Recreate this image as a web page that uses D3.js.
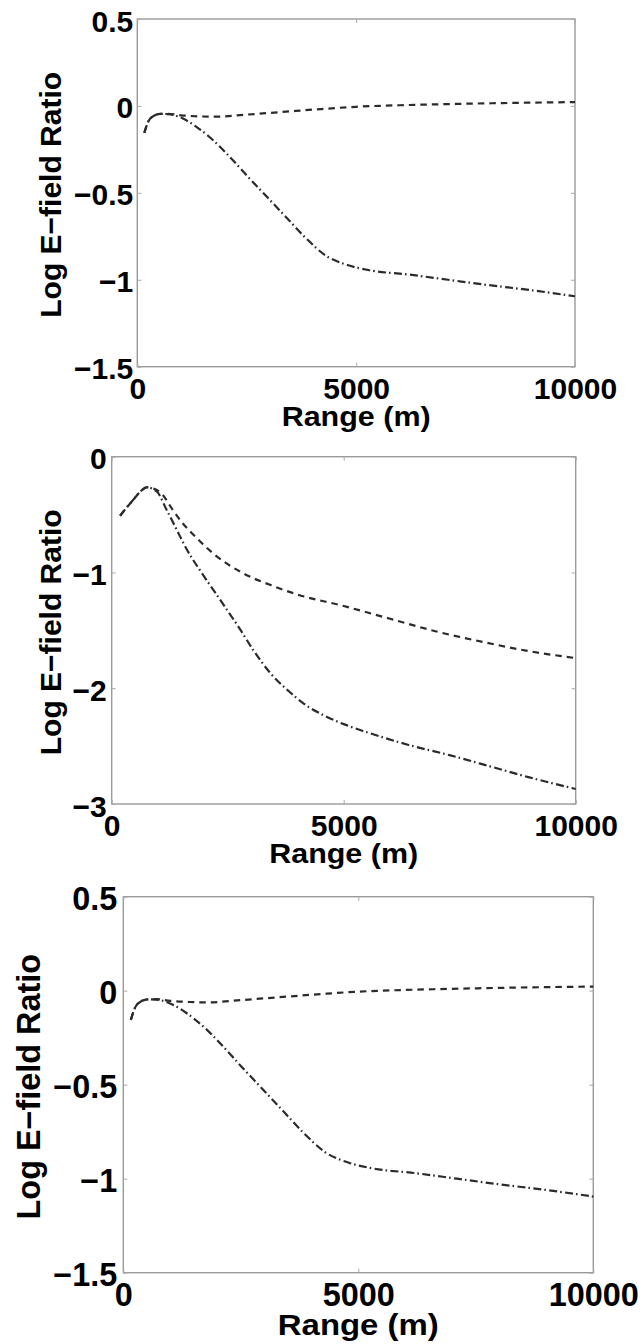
<!DOCTYPE html>
<html><head><meta charset="utf-8">
<script src="https://cdn.jsdelivr.net/npm/d3@7"></script>
<style>
html,body{margin:0;padding:0;background:#fff;}
svg{display:block;background:#fff;}
text{font-family:"Liberation Sans",Arial,Helvetica,sans-serif;font-weight:bold;fill:#000;}
</style></head><body>
<svg id="chart" width="641" height="1344"></svg>
<script>
// ---- data ----
const xTicks = [0, 5000, 10000];
const yTicksA = [0.5, 0, -0.5, -1, -1.5];
const yTicksB = [0, -1, -2, -3];
const xTitle = "Range (m)";
const yTitle = "Log E\u2212field Ratio";

// panel 1 (and 3): dashed curve
const rangeA_dash = [160, 250, 370, 520, 700, 1000, 1400, 1800, 2500, 3300, 4200, 5000, 6000, 7000, 8000, 9000, 10000];
const valueA_dash = [-0.155, -0.09, -0.058, -0.046, -0.045, -0.054, -0.060, -0.062, -0.050, -0.035, -0.018, -0.005, 0.004, 0.010, 0.015, 0.019, 0.022];
// panel 1 (and 3): dash-dot curve
const rangeA_dd = [160, 250, 370, 520, 700, 900, 1100, 1350, 1700, 2100, 2500, 2950, 3400, 3850, 4300, 4800, 5300, 6200, 7100, 8000, 9000, 10000];
const valueA_dd = [-0.155, -0.09, -0.058, -0.046, -0.047, -0.058, -0.08, -0.12, -0.19, -0.29, -0.40, -0.52, -0.64, -0.76, -0.86, -0.915, -0.945, -0.97, -1.0, -1.03, -1.06, -1.095];

// panel 2: dashed curve
const rangeB_dash = [180, 300, 470, 620, 754, 900, 1100, 1300, 1500, 1800, 2200, 2800, 3500, 4000, 5000, 6000, 7000, 8000, 9000, 10000];
const valueB_dash = [-0.51, -0.45, -0.37, -0.30, -0.265, -0.275, -0.33, -0.45, -0.56, -0.69, -0.84, -1.0, -1.12, -1.19, -1.29, -1.40, -1.51, -1.60, -1.68, -1.74];
// panel 2: dash-dot curve
const rangeB_dd = [180, 300, 470, 620, 754, 970, 1185, 1400, 1616, 1900, 2190, 2480, 2765, 3050, 3400, 3800, 4200, 4600, 5000, 5500, 6400, 7300, 8200, 9000, 10000];
const valueB_dd = [-0.51, -0.45, -0.37, -0.30, -0.265, -0.30, -0.46, -0.63, -0.80, -0.98, -1.15, -1.32, -1.49, -1.67, -1.86, -2.02, -2.15, -2.24, -2.31, -2.38, -2.49, -2.58, -2.68, -2.77, -2.87];

// ---- layout ----
const panels = [
  {l:137.3, t:19, r:575, b:366.7, dom:[-1.5,0.5], yt:yTicksA, fs:30, ytx:61, xlb:399, ttl:426, gap:4, k:1,
   series:[[rangeA_dash,valueA_dash,"dash"],[rangeA_dd,valueA_dd,"dd"]]},
  {l:111.7, t:456.7, r:575.7, b:804, dom:[-3,0], yt:yTicksB, fs:30, ytx:61, xlb:836, ttl:863, gap:5, k:1,
   series:[[rangeB_dash,valueB_dash,"dash"],[rangeB_dd,valueB_dd,"dd"]]},
  {l:123.3, t:896.7, r:593.3, b:1272.7, dom:[-1.5,0.5], yt:yTicksA, fs:32.4, ytx:40, xlb:1306, ttl:1335, gap:6, k:1.08,
   series:[[rangeA_dash,valueA_dash,"dash"],[rangeA_dd,valueA_dd,"dd"]]}
];

const svg = d3.select("#chart");
const yfmt = d3.format("~g");
const xfmt = d3.format("d");

panels.forEach(p => {
  const x = d3.scaleLinear().domain([0,10000]).range([p.l,p.r]);
  const y = d3.scaleLinear().domain(p.dom).range([p.b,p.t]);
  const g = svg.append("g");

  // box
  g.append("rect").attr("x",p.l).attr("y",p.t).attr("width",p.r-p.l).attr("height",p.b-p.t)
    .attr("fill","none").attr("stroke","#9a9a9a").attr("stroke-width",1.4);

  // axes (inward ticks)
  const ax = [
    [d3.axisLeft(y).tickValues(p.yt).tickSize(-4).tickPadding(p.gap).tickFormat(yfmt), `translate(${p.l},0)`],
    [d3.axisRight(y).tickValues(p.yt).tickSize(-4).tickFormat(""), `translate(${p.r},0)`],
    [d3.axisBottom(x).tickValues(xTicks).tickSize(-4).tickFormat(xfmt), `translate(0,${p.b})`],
    [d3.axisTop(x).tickValues(xTicks).tickSize(-4).tickFormat(""), `translate(0,${p.t})`]
  ];
  ax.forEach(([a,tr],i) => {
    const ag = g.append("g").attr("transform",tr).call(a);
    ag.select(".domain").remove();
    ag.selectAll(".tick line").attr("stroke","#aaa").attr("stroke-width",1);
    ag.selectAll(".tick text").attr("font-size",p.fs).attr("fill","#000")
      .style("font-family",'"Liberation Sans",Arial,Helvetica,sans-serif').style("font-weight","bold");
    if (i===0) ag.selectAll(".tick text").attr("dy",null).attr("y", 12*p.fs/30);
    if (i===2) ag.selectAll(".tick text").attr("dy",null).attr("y", p.xlb - p.b);
  });

  // curves
  const line = d3.line().x(d=>x(d[0])).y(d=>y(d[1])).curve(d3.curveMonotoneX);
  p.series.forEach(([xs,ys,style]) => {
    g.append("path").datum(d3.zip(xs,ys)).attr("d",line)
      .attr("fill","none").attr("stroke","#2b2b2b").attr("stroke-width",2.2)
      .attr("stroke-dasharray", style==="dash" ? "6.5,5" : "8,3,1.6,3.4");
  });

  // titles
  g.append("text").attr("x",(p.l+p.r)/2).attr("y",p.ttl).attr("text-anchor","middle")
    .attr("font-size",28*p.k).attr("textLength",149*p.k).attr("lengthAdjust","spacingAndGlyphs")
    .text(xTitle);
  g.append("text").attr("transform",`translate(${p.ytx},${(p.t+p.b)/2+2}) rotate(-90)`)
    .attr("text-anchor","middle").attr("font-size",p.fs).text(yTitle);
});
</script>
</body></html>
